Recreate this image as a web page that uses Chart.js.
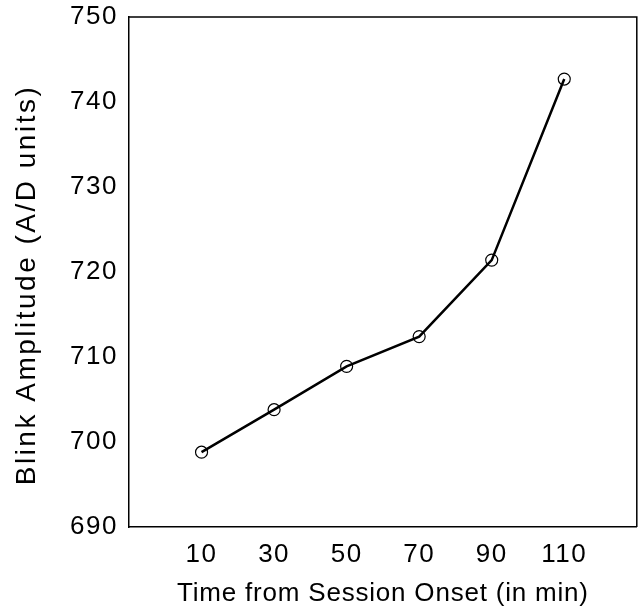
<!DOCTYPE html>
<html lang="en">
<head>
  <meta charset="UTF-8">
  <title>Blink Amplitude over Session</title>
  <script src="https://cdn.jsdelivr.net/npm/chart.js@4.4.0/dist/chart.umd.min.js"></script>
  <style>
    html, body { margin: 0; padding: 0; background: #fff; }
  </style>
</head>
<body>
  <canvas id="blinkChart" width="644" height="615"></canvas>
  <script>
    // values
    const times = [10, 30, 50, 70, 90, 110];
    const amplitude = [698.8, 703.8, 708.9, 712.4, 721.4, 742.7];
    const yTicks = [690, 700, 710, 720, 730, 740, 750];

    const FONT = "'Liberation Sans', Arial, Helvetica, sans-serif";

    // the scanned figure has loosely spaced lettering; add a bit of
    // letter spacing (and a small shift for the y title) at draw time
    function spaceText(scale, labelGap, titleGap, titleDy) {
      if (scale._spaced) return;
      scale._spaced = true;
      const drawLabels = scale.drawLabels;
      const drawTitle = scale.drawTitle;
      scale.drawLabels = function () {
        this.ctx.save();
        this.ctx.letterSpacing = labelGap + 'px';
        drawLabels.apply(this, arguments);
        this.ctx.restore();
      };
      scale.drawTitle = function () {
        this.ctx.save();
        this.ctx.letterSpacing = titleGap + 'px';
        this.ctx.translate(0, titleDy);
        drawTitle.apply(this, arguments);
        this.ctx.restore();
      };
    }

    // box around the plot area (top and right sides)
    const framePlugin = {
      id: 'frame',
      afterDraw(chart) {
        const { ctx, chartArea: a } = chart;
        ctx.save();
        ctx.strokeStyle = '#000';
        ctx.lineWidth = 1.5;
        ctx.beginPath();
        ctx.moveTo(a.left, a.top);
        ctx.lineTo(a.right, a.top);
        ctx.lineTo(a.right, a.bottom);
        ctx.stroke();
        ctx.restore();
      }
    };

    const ctx = document.getElementById('blinkChart').getContext('2d');
    new Chart(ctx, {
      type: 'line',
      data: {
        datasets: [{
          data: times.map((t, i) => ({ x: t, y: amplitude[i] })),
          borderColor: '#000',
          borderWidth: 2.5,
          pointRadius: 6,
          pointBorderWidth: 1.2,
          pointBorderColor: '#000',
          pointBackgroundColor: 'rgba(255,255,255,0)',
          tension: 0
        }]
      },
      options: {
        responsive: false,
        animation: false,
        layout: { padding: { top: 17, right: 3, left: 0, bottom: 0 } },
        plugins: {
          legend: { display: false },
          tooltip: { enabled: false }
        },
        scales: {
          x: {
            type: 'linear',
            min: -10,
            max: 130,
            afterBuildTicks: s => { s.ticks = times.map(v => ({ value: v })); },
            afterFit: s => {
              s.height = 88;
              s.paddingLeft = 0;
              s.paddingRight = 0;
              spaceText(s, 1.5, 0.8, 0);
            },
            grid: { display: false, drawTicks: false },
            border: { display: true, color: '#000', width: 1.5 },
            ticks: {
              color: '#000',
              padding: 12,
              maxRotation: 0,
              font: { family: FONT, size: 26 }
            },
            title: {
              display: true,
              text: 'Time from Session Onset (in min)',
              color: '#000',
              padding: { top: 0, bottom: 6 },
              font: { family: FONT, size: 26 }
            }
          },
          y: {
            min: 690,
            max: 750,
            afterBuildTicks: s => { s.ticks = yTicks.map(v => ({ value: v })); },
            afterFit: s => {
              s.width = 129;
              s.paddingTop = 0;
              s.paddingBottom = 0;
              spaceText(s, 1.5, 2.5, 13);
            },
            grid: { display: false, drawTicks: false },
            border: { display: true, color: '#000', width: 1.5 },
            ticks: {
              color: '#000',
              padding: 11,
              font: { family: FONT, size: 26 }
            },
            title: {
              display: true,
              text: 'Blink Amplitude (A/D units)',
              color: '#000',
              padding: { top: 10, bottom: 0 },
              font: { family: FONT, size: 28 }
            }
          }
        }
      },
      plugins: [framePlugin]
    });
  </script>
</body>
</html>
